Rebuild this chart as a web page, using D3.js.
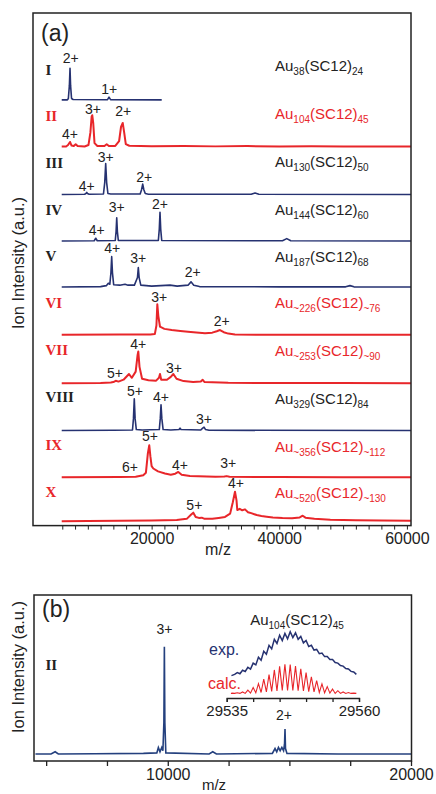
<!DOCTYPE html>
<html>
<head>
<meta charset="utf-8">
<script src="https://d3js.org/d3.v7.min.js"></script>
<style>
body { margin: 0; background: #fff; }
text { font-family: "Liberation Sans", Arial, sans-serif; fill: #222; }
.roman { font-family: "Liberation Serif", "Times New Roman", serif; font-weight: bold; font-size: 15px; }
.peak { font-size: 14px; }
.tick text { font-size: 16px; fill: #222; }
.inset .tick text { font-size: 15px; }
</style>
</head>
<body>
<svg width="436" height="794"></svg>
<script>
var navy = "#263271", red = "#e8262a";

// ---- panel (a) data: [m/z, intensity above trace baseline] ----
var romans = ["I", "II", "III", "IV", "V", "VI", "VII", "VIII", "IX", "X"];
var auSub = ["38", "104", "130", "144", "187", "~226", "~253", "329", "~356", "~520"];
var ligSub = ["24", "45", "50", "60", "68", "~76", "~90", "84", "~112", "~130"];
var isRed = [false, true, false, false, false, true, true, false, true, true];
var offsets = [8.88, 7.89, 6.89, 5.91, 4.94, 3.93, 2.91, 1.92, 0.93, 0];

var specI = [[5910,0],[6800,0],[6950,0.03],[7110,0.3],[7210,0.667],[7300,0.3],[7450,0.03],[7700,0.01],[13050,0.005],[13200,0.03],[13320,0.057],[13450,0.03],[13600,0.005],[21580,0]];
var specII = [[5910,0.01],[6600,0.01],[6900,0.04],[7210,0.105],[7450,0.03],[7800,0.02],[8100,0.057],[8400,0.02],[9500,0.01],[10100,0.04],[10400,0.3],[10600,0.64],[10700,0.667],[10850,0.5],[11050,0.08],[11500,0.02],[12600,0.02],[12960,0.057],[13300,0.02],[14300,0.02],[14900,0.12],[15200,0.42],[15470,0.505],[15700,0.3],[15950,0.06],[16500,0.025],[20000,0.015],[25000,0.02],[30000,0.012],[35000,0.018],[40000,0.01],[45000,0.015],[50000,0.01],[55000,0.012],[60640,0.01]];
var specIII = [[5910,0],[9500,0.005],[9700,0.02],[9830,0.042],[9950,0.02],[10200,0.005],[12450,0.01],[12650,0.25],[12800,0.653],[12950,0.25],[13150,0.02],[13600,0.01],[18200,0.01],[18420,0.1],[18600,0.217],[18780,0.1],[19000,0.02],[19500,0.005],[35600,0.005],[36200,0.03],[36800,0.005],[60640,0]];
var specIV = [[5910,0],[11000,0.005],[11240,0.057],[11480,0.005],[14300,0.01],[14430,0.2],[14530,0.49],[14630,0.2],[14780,0.01],[21050,0.01],[21200,0.25],[21310,0.604],[21420,0.25],[21580,0.01],[40500,0.005],[41170,0.05],[41800,0.005],[60640,0]];
var specV = [[5910,0],[12000,0.01],[12900,0.03],[13210,0.08],[13450,0.06],[13620,0.3],[13740,0.64],[13860,0.3],[14050,0.05],[15000,0.04],[15830,0.06],[16300,0.04],[17300,0.04],[17780,0.2],[17910,0.41],[18040,0.2],[18300,0.04],[20000,0.02],[22880,0.04],[24000,0.02],[25700,0.04],[26170,0.11],[26600,0.04],[27500,0.01],[40000,0.005],[50400,0.005],[51080,0.03],[51700,0.005],[60640,0]];
var specVI = [[5910,0.005],[15000,0.01],[19800,0.01],[20500,0.02],[20750,0.2],[20890,0.646],[21050,0.4],[21310,0.175],[22000,0.13],[23140,0.105],[24500,0.085],[25700,0.07],[27000,0.055],[28360,0.04],[29500,0.05],[30200,0.08],[30710,0.105],[31300,0.06],[32000,0.03],[33060,0.01],[40000,0.005],[60640,0.005]];
var specVII = [[5910,0.005],[12000,0.01],[13600,0.02],[14000,0.03],[14370,0.057],[14800,0.04],[15600,0.08],[16450,0.2],[16900,0.12],[17500,0.25],[17800,0.6],[17910,0.674],[18100,0.35],[18500,0.1],[19500,0.07],[20700,0.06],[21150,0.12],[21310,0.2],[21500,0.08],[22400,0.08],[23000,0.14],[23400,0.2],[23900,0.1],[25000,0.05],[26500,0.03],[27700,0.04],[28000,0.078],[28300,0.03],[32000,0.015],[40000,0.01],[50000,0.008],[60640,0.005]];
var specVIII = [[5910,0],[14000,0.005],[17000,0.01],[17150,0.25],[17280,0.667],[17410,0.25],[17600,0.02],[18500,0.01],[21200,0.02],[21350,0.25],[21470,0.54],[21600,0.25],[21800,0.02],[23000,0.01],[24300,0.02],[24450,0.05],[24600,0.02],[27700,0.01],[28000,0.05],[28210,0.07],[28450,0.02],[29000,0.005],[60640,0]];
var specIX = [[5910,0.005],[15000,0.01],[17500,0.015],[18690,0.05],[19100,0.1],[19400,0.5],[19630,0.68],[19800,0.45],[20000,0.24],[20260,0.19],[21000,0.13],[22090,0.085],[23000,0.06],[23700,0.08],[24180,0.118],[24700,0.06],[26000,0.03],[30000,0.015],[31400,0.02],[31760,0.03],[32200,0.015],[40000,0.01],[50000,0.008],[60640,0.005]];
var specX = [[5910,0.01],[10000,0.015],[15000,0.02],[20000,0.025],[22000,0.03],[23930,0.035],[25500,0.06],[26200,0.15],[26530,0.19],[26900,0.1],[27400,0.08],[27850,0.085],[28300,0.06],[29500,0.06],[30500,0.08],[31500,0.1],[32300,0.17],[32700,0.4],[33060,0.63],[33300,0.45],[33420,0.246],[33800,0.27],[34200,0.24],[34630,0.26],[35100,0.2],[35600,0.18],[36460,0.14],[37200,0.12],[38030,0.105],[39000,0.09],[40500,0.08],[42000,0.075],[43200,0.09],[43670,0.126],[44100,0.085],[45500,0.06],[48000,0.04],[52000,0.03],[56000,0.025],[60640,0.02]];
var spectraA = [specI, specII, specIII, specIV, specV, specVI, specVII, specVIII, specIX, specX];

// charge-state labels: [text, m/z, height]
var chargeA = [
  [["2+",7320,0.77],["1+",13370,0.126]],
  [["4+",7210,0.177],["3+",10810,0.70],["2+",15560,0.646]],
  [["4+",9830,0.076],["3+",12800,0.686],["2+",18850,0.265]],
  [["4+",11390,0.126],["3+",14530,0.617],["2+",21310,0.674]],
  [["4+",13840,0.71],["3+",17910,0.5],["2+",26440,0.217]],
  [["3+",21200,0.69],["2+",30980,0.19]],
  [["5+",14260,0.126],["4+",17910,0.724],["3+",23500,0.23]],
  [["5+",17390,0.737],["4+",21470,0.596],["3+",28210,0.141]],
  [["6+",16610,0.118],["5+",19740,0.764],["4+",24450,0.168],["3+",32010,0.2]],
  [["5+",26690,0.246],["4+",33220,0.703]]
];
var ticksA = d3.range(6000, 60001, 2000);

// ---- panel (b) data ----
var specB = [[4560,0.01],[5200,0.01],[5370,0.03],[5500,0.01],[7000,0.012],[9000,0.015],[9550,0.02],[9613,0.07],[9680,0.03],[9753,0.07],[9800,0.04],[9840,0.3],[9860,1.0],[9880,0.3],[9920,0.02],[11700,0.01],[11850,0.03],[12000,0.01],[14300,0.015],[14410,0.06],[14480,0.03],[14550,0.07],[14620,0.04],[14690,0.07],[14760,0.04],[14800,0.1],[14820,0.24],[14840,0.06],[14900,0.015],[17000,0.01],[20000,0.01]];
var chargeB = [["3+",9860,1.12],["2+",14780,0.32]];
var ticksB = d3.range(5000, 20001, 2500);

var expIso = [[29535.9,0.62],[29536.5,0.66],[29537,0.72],[29537.5,0.68],[29538,0.8],[29538.5,0.76],[29539,0.9],[29539.5,0.84],[29540,1.04],[29540.5,0.98],[29541,1.24],[29541.5,1.14],[29542,1.44],[29542.5,1.34],[29543,1.64],[29543.5,1.52],[29544,1.84],[29544.5,1.7],[29545,1.98],[29545.5,1.8],[29546,2.04],[29546.5,1.86],[29547,2.1],[29547.5,1.9],[29548,2.06],[29548.5,1.84],[29549,1.94],[29549.5,1.72],[29550,1.8],[29550.5,1.6],[29551,1.64],[29551.5,1.48],[29552,1.5],[29552.5,1.36],[29553,1.38],[29553.5,1.26],[29554,1.26],[29554.5,1.16],[29555,1.16],[29555.5,1.06],[29556,1.04],[29556.5,0.96],[29557,0.94],[29557.5,0.86],[29558,0.84],[29558.5,0.76],[29559,0.74],[29559.5,0.66]];
var calcIso = [[29535.8,0.02],[29536,0.03],[29536.5,0.02],[29537,0.04],[29537.5,0.02],[29538,0.07],[29538.5,0.02],[29539,0.13],[29539.5,0.03],[29540,0.22],[29540.5,0.04],[29541,0.35],[29541.5,0.05],[29542,0.5],[29542.5,0.07],[29543,0.65],[29543.5,0.09],[29544,0.81],[29544.5,0.1],[29545,0.93],[29545.5,0.12],[29546,1.0],[29546.5,0.12],[29547,0.99],[29547.5,0.12],[29548,0.94],[29548.5,0.11],[29549,0.85],[29549.5,0.1],[29550,0.72],[29550.5,0.08],[29551,0.58],[29551.5,0.07],[29552,0.45],[29552.5,0.05],[29553,0.34],[29553.5,0.04],[29554,0.25],[29554.5,0.03],[29555,0.17],[29555.5,0.02],[29556,0.11],[29556.5,0.02],[29557,0.07],[29557.5,0.02],[29558,0.05],[29558.5,0.02],[29559,0.03],[29559.5,0.02]];
var ticksInset = d3.range(29535, 29561, 5);

var svg = d3.select("svg");

// formula with subscripts: Au_n(SC12)_m
function formula(sel, au, lig) {
  sel.append("tspan").text("Au");
  sel.append("tspan").attr("font-size", "10px").attr("dy", 4).text(au);
  sel.append("tspan").attr("dy", -4).text("(SC12)");
  sel.append("tspan").attr("font-size", "10px").attr("dy", 4).text(lig);
}

// ================= panel (a) =================
var xA = d3.scaleLinear().domain([1410, 60640]).range([33, 411]);
var yA = d3.scaleLinear().domain([-0.082, 10.71]).range([525.6, 13]);

var gA = svg.append("g");

spectraA.forEach(function(spec, i) {
  var line = d3.line()
    .x(d => xA(d[0]))
    .y(d => yA(offsets[i] + d[1]));
  gA.append("path")
    .attr("d", line(spec))
    .attr("fill", "none")
    .attr("stroke", isRed[i] ? red : navy)
    .attr("stroke-width", isRed[i] ? 2 : 1.6)
    .attr("stroke-linejoin", "round");

  gA.selectAll(null)
    .data(chargeA[i])
    .enter().append("text")
      .attr("class", "peak")
      .attr("x", d => xA(d[1]))
      .attr("y", d => yA(offsets[i] + d[2]))
      .attr("text-anchor", "middle")
      .text(d => d[0]);
});

var romanY = [74.5, 121, 168, 215, 261, 308, 355, 402, 449.5, 497];
var formulaY = [70.7, 119, 166.7, 215, 262.3, 308.3, 356, 404, 451.7, 498.3];

gA.selectAll(".roman")
  .data(romans)
  .enter().append("text")
    .attr("class", "roman")
    .attr("x", 45.5)
    .attr("y", (d, i) => romanY[i])
    .style("fill", (d, i) => isRed[i] ? red : "#222")
    .text(d => d);

romans.forEach(function(r, i) {
  var t = gA.append("text")
    .attr("x", 275)
    .attr("y", formulaY[i])
    .attr("font-size", "15px")
    .style("fill", isRed[i] ? red : "#222");
  formula(t, auSub[i], ligSub[i]);
});

var axA = gA.append("g")
  .attr("transform", "translate(0,525.6)")
  .call(d3.axisBottom(xA).tickValues(ticksA).tickSize(4)
    .tickFormat(d => d % 20000 === 0 ? d : ""));
axA.select(".domain").remove();
axA.selectAll(".tick line").attr("stroke", "#222");

gA.append("rect")
  .attr("x", 33).attr("y", 13).attr("width", 378).attr("height", 512.6)
  .attr("fill", "none").attr("stroke", "#222").attr("stroke-width", 1.5);

gA.append("text").attr("x", 41).attr("y", 40.5).attr("font-size", "23px").text("(a)");
gA.append("text").attr("x", 218).attr("y", 555).attr("text-anchor", "middle")
  .attr("font-size", "16px").text("m/z");
gA.append("text").attr("transform", "translate(24,263) rotate(-90)")
  .attr("text-anchor", "middle").attr("font-size", "16.5px").text("Ion Intensity (a.u.)");

// ================= panel (b) =================
var xB = d3.scaleLinear().domain([4500, 20000]).range([34, 411]);
var yB = d3.scaleLinear().domain([-0.055, 1.477]).range([761, 595]);

var gB = svg.append("g");

gB.append("path")
  .attr("d", d3.line().x(d => xB(d[0])).y(d => yB(d[1]))(specB))
  .attr("fill", "none").attr("stroke", "#24407e").attr("stroke-width", 1.6);

gB.selectAll(null)
  .data(chargeB)
  .enter().append("text")
    .attr("class", "peak")
    .attr("x", d => xB(d[1]))
    .attr("y", d => yB(d[2]))
    .attr("text-anchor", "middle")
    .text(d => d[0]);

var axB = gB.append("g")
  .attr("transform", "translate(0,761)")
  .call(d3.axisBottom(xB).tickValues(ticksB).tickSize(5)
    .tickFormat(d => d % 10000 === 0 ? d : ""));
axB.select(".domain").remove();
axB.selectAll(".tick line").attr("stroke", "#222").attr("stroke-width", 1.3);

gB.append("rect")
  .attr("x", 34).attr("y", 595).attr("width", 377.5).attr("height", 166)
  .attr("fill", "none").attr("stroke", "#222").attr("stroke-width", 1.5);

gB.append("text").attr("x", 42).attr("y", 617).attr("font-size", "23px").text("(b)");
gB.append("text").attr("class", "roman").attr("x", 45.5).attr("y", 670).text("II");
gB.append("text").attr("x", 214).attr("y", 790).attr("text-anchor", "middle")
  .attr("font-size", "15px").text("m/z");
gB.append("text").attr("transform", "translate(24,667) rotate(-90)")
  .attr("text-anchor", "middle").attr("font-size", "16.5px").text("Ion Intensity (a.u.)");

// inset: isotope pattern
var xI = d3.scaleLinear().domain([29535, 29560]).range([226.7, 359]);
var yI = d3.scaleLinear().domain([0, 1]).range([694, 664.3]);
var gI = gB.append("g").attr("class", "inset");

gI.append("path")
  .attr("d", d3.line().x(d => xI(d[0])).y(d => yI(d[1]))(expIso))
  .attr("fill", "none").attr("stroke", navy).attr("stroke-width", 1.5);
gI.append("path")
  .attr("d", d3.line().x(d => xI(d[0])).y(d => yI(d[1]))(calcIso))
  .attr("fill", "none").attr("stroke", red).attr("stroke-width", 1.1);

var axI = gI.append("g")
  .attr("transform", "translate(0,698)")
  .call(d3.axisBottom(xI).tickValues(ticksInset).tickSize(4)
    .tickFormat(d => (d === 29535 || d === 29560) ? d : ""));
axI.select(".domain").attr("stroke", "#222").attr("stroke-width", 1.3);
axI.selectAll(".tick line").attr("stroke", "#222").attr("stroke-width", 1.3);

var tI = gI.append("text").attr("x", 297).attr("y", 625).attr("text-anchor", "middle")
  .attr("font-size", "15px");
formula(tI, "104", "45");
gI.append("text").attr("x", 209).attr("y", 655).attr("font-size", "16px")
  .style("fill", navy).text("exp.");
gI.append("text").attr("x", 208).attr("y", 689).attr("font-size", "16px")
  .style("fill", red).text("calc.");
</script>
</body>
</html>
